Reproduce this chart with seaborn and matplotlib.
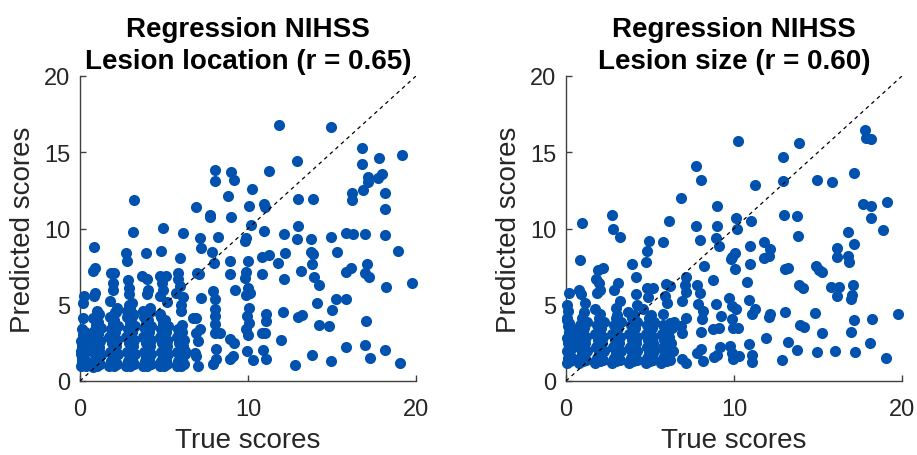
import numpy as np
import pandas as pd
import matplotlib
matplotlib.use('Agg')
import matplotlib.pyplot as plt
import seaborn as sns

# ---- Lesion location panel: dense columns at low true scores ----
loc_dense_true = [
    0.05, 0.25, 0.10, 0.30, 0.15, 0.05, 0.30, 0.20, 0.10, 0.35, 0.05, 0.25, 0.15, 0.30, 0.10, 0.20, 0.05, 0.35, 0.20, 0.10,
    0.75, 1.00, 1.20, 0.85, 1.10, 0.95, 1.25, 0.80, 1.05, 1.15, 0.90, 1.20, 0.75, 1.00, 1.10, 0.85, 1.25, 0.95, 1.05, 0.80, 1.15, 1.00,
    1.75, 2.00, 2.20, 1.85, 2.10, 1.95, 2.25, 1.80, 2.05, 2.15, 1.90, 2.20, 1.75, 2.00, 2.10, 1.85, 2.25, 1.95, 2.05, 1.80, 2.15, 2.00,
    2.75, 3.00, 3.20, 2.85, 3.10, 2.95, 3.25, 2.80, 3.05, 3.15, 2.90, 3.20, 2.75, 3.00, 3.10, 2.85, 3.25, 2.95, 3.05, 2.80, 3.15, 3.00, 2.90, 3.10,
    3.75, 4.00, 4.20, 3.85, 4.10, 3.95, 4.25, 3.80, 4.05, 4.15, 3.90, 4.20, 3.75, 4.00, 4.10, 3.85, 4.25, 3.95, 4.05, 3.80, 4.15, 4.00,
    4.75, 5.00, 5.20, 4.85, 5.10, 4.95, 5.25, 4.80, 5.05, 5.15, 4.90, 5.20, 4.75, 5.00, 5.10, 4.85, 5.25, 4.95, 5.05, 4.80, 5.15, 5.00,
    5.75, 6.00, 6.20, 5.85, 6.10, 5.95, 6.25, 5.80, 6.05, 6.15, 5.90, 6.20, 5.75, 6.00, 6.10, 5.85, 6.25, 5.95,
]
loc_dense_pred = [
    1.0, 1.1, 1.3, 1.4, 1.6, 1.8, 1.9, 2.1, 2.3, 2.4, 2.6, 2.8, 3.0, 3.2, 3.4, 1.2, 2.0, 1.0, 2.7, 1.5,
    0.9, 1.0, 1.1, 1.3, 1.4, 1.6, 1.7, 1.9, 2.1, 2.2, 2.4, 2.6, 2.8, 3.0, 3.1, 3.3, 3.5, 3.7, 3.9, 4.1, 2.0, 1.2,
    1.0, 1.0, 1.1, 1.3, 1.4, 1.6, 1.8, 1.9, 2.1, 2.3, 2.5, 2.7, 2.9, 3.0, 3.2, 3.4, 3.6, 3.8, 4.0, 4.2, 4.5, 2.2,
    1.0, 1.0, 1.1, 1.3, 1.4, 1.6, 1.8, 1.9, 2.1, 2.3, 2.5, 2.7, 2.9, 3.0, 3.2, 3.4, 3.6, 3.8, 4.0, 4.2, 4.4, 4.7, 5.0, 2.2,
    1.0, 1.0, 1.1, 1.3, 1.4, 1.6, 1.8, 1.9, 2.1, 2.3, 2.5, 2.7, 2.9, 3.0, 3.2, 3.4, 3.6, 3.8, 4.0, 4.2, 4.5, 2.0,
    1.0, 1.0, 1.1, 1.3, 1.4, 1.6, 1.8, 1.9, 2.1, 2.3, 2.5, 2.7, 2.9, 3.0, 3.2, 3.4, 3.6, 3.8, 4.0, 4.2, 2.6, 1.2,
    1.0, 1.0, 1.1, 1.3, 1.4, 1.6, 1.8, 1.9, 2.1, 2.3, 2.5, 2.7, 2.9, 3.0, 3.2, 3.4, 2.0, 1.2,
]

# ---- Lesion location panel: scattered points ----
loc_sparse_true = [
    0.26, 0.20, 0.16, 0.81, 0.90, 0.75, 0.90, 0.85, 1.00, 1.15,
    1.85, 2.00, 1.95, 1.95, 1.80, 2.20, 2.10,
    2.75, 2.77, 3.21, 3.17, 2.87, 2.93, 2.93, 3.07, 2.77, 3.17,
    3.92, 3.72, 3.96, 4.06, 3.96, 4.16, 3.76,
    4.83, 4.95, 4.75, 5.09, 4.91, 4.95, 4.75, 5.15, 4.75,
    5.94, 6.16, 5.84, 5.84, 5.94, 5.74, 6.14, 6.04, 6.04, 6.10,
    11.84, 14.97, 16.77, 19.15, 17.82, 12.89, 16.79, 17.96, 17.76, 17.17, 17.17,
    8.02, 8.04, 8.99, 9.15, 11.25, 10.24, 16.18, 18.14, 16.83, 16.20, 8.81,
    12.95, 13.88, 6.89, 7.74, 7.76, 10.06, 10.95, 11.03, 18.16, 9.01,
    10.18, 12.99, 10.95, 7.15, 7.21, 8.22, 9.90, 9.80, 12.12, 12.93,
    13.76, 14.93, 15.86, 16.24, 16.97, 18.16, 18.93, 7.88, 7.96, 8.91,
    8.91, 9.98, 9.90, 9.80, 10.85, 11.25, 11.78, 12.18, 12.14, 13.76,
    13.86, 13.82, 13.15, 13.90, 14.24, 15.27, 15.84, 16.16, 16.97, 17.11,
    17.19, 18.22, 19.78, 10.81, 7.09, 6.95, 9.23, 10.00, 9.88, 10.12,
    7.21, 14.12, 15.21, 15.84, 14.99, 12.08, 12.95, 13.21, 14.20, 14.85,
    17.05, 11.94, 15.84, 16.95, 17.25, 18.14, 19.05, 14.93, 13.80, 12.79,
    9.92, 10.28, 10.91, 11.09, 10.85, 11.01, 11.09, 11.09, 9.92, 10.06,
    9.90, 10.04, 10.00, 8.91, 9.17, 8.91, 9.11, 8.12, 8.12, 7.92,
    8.02, 8.02, 8.02, 8.02, 8.02, 7.92, 8.32, 6.93, 7.13, 7.03,
    6.93, 7.03, 6.73, 6.93, 6.83,
]
loc_sparse_pred = [
    5.6, 5.1, 4.1, 8.8, 7.4, 7.2, 5.8, 5.6, 4.6, 4.4,
    7.1, 7.1, 6.45, 6.0, 5.25, 4.8, 4.5,
    8.42, 7.87, 11.85, 9.79, 6.6, 6.1, 5.7, 5.1, 4.6, 4.3,
    8.42, 6.9, 6.7, 6.0, 5.7, 4.8, 4.6,
    8.55, 10.03, 6.9, 6.9, 6.45, 6.0, 5.6, 5.2, 4.4,
    8.09, 9.7, 7.1, 6.7, 6.2, 5.8, 5.5, 5.0, 4.6, 3.7,
    16.81, 16.63, 15.26, 14.84, 14.64, 14.45, 14.25, 13.60, 13.29, 13.40, 13.05,
    13.84, 13.14, 13.73, 13.16, 13.75, 12.59, 12.35, 12.35, 12.50, 11.87, 12.15,
    11.91, 11.93, 11.43, 10.89, 10.73, 11.45, 11.63, 11.39, 11.30, 10.78,
    10.20, 10.19, 9.81, 9.36, 8.72, 9.44, 9.40, 9.16, 9.62, 9.33,
    9.33, 9.44, 9.70, 9.62, 9.64, 9.60, 8.55, 8.44, 7.74, 7.87,
    6.99, 7.85, 7.13, 6.75, 8.15, 8.26, 7.76, 8.37, 6.67, 8.46,
    8.33, 7.69, 7.23, 6.82, 6.30, 8.46, 7.15, 7.43, 7.10, 7.65,
    6.84, 6.19, 6.43, 7.04, 6.99, 7.10, 5.95, 6.08, 5.62, 5.75,
    5.46, 5.14, 5.36, 5.36, 4.63, 4.55, 4.22, 4.35, 3.69, 3.61,
    3.91, 2.71, 2.25, 2.38, 1.49, 2.05, 1.20, 1.33, 1.68, 1.07,
    1.99, 1.40, 2.01, 1.42, 3.13, 3.13, 3.93, 4.37, 4.26, 3.83,
    3.39, 4.77, 3.00, 2.73, 2.51, 1.42, 1.64, 2.08, 1.42, 1.09,
    3.72, 3.17, 4.26, 4.70, 5.36, 5.90, 3.17, 4.15, 3.39, 2.62,
    1.64, 0.98, 4.15, 3.17, 1.86,
]

# ---- Lesion size panel: dense columns ----
size_dense_true = [
    0.05, 0.25, 0.10, 0.30, 0.15, 0.05, 0.30, 0.20, 0.10, 0.35, 0.05, 0.25, 0.15, 0.30, 0.10, 0.20, 0.05, 0.35,
    0.75, 1.00, 1.20, 0.85, 1.10, 0.95, 1.25, 0.80, 1.05, 1.15, 0.90, 1.20, 0.75, 1.00, 1.10, 0.85, 1.25, 0.95, 1.05, 0.80,
    1.75, 2.00, 2.20, 1.85, 2.10, 1.95, 2.25, 1.80, 2.05, 2.15, 1.90, 2.20, 1.75, 2.00, 2.10, 1.85, 2.25, 1.95, 2.05, 1.80,
    2.75, 3.00, 3.20, 2.85, 3.10, 2.95, 3.25, 2.80, 3.05, 3.15, 2.90, 3.20, 2.75, 3.00, 3.10, 2.85, 3.25, 2.95, 3.05, 2.80,
    3.75, 4.00, 4.20, 3.85, 4.10, 3.95, 4.25, 3.80, 4.05, 4.15, 3.90, 4.20, 3.75, 4.00, 4.10, 3.85, 4.25, 3.95, 4.05, 3.80,
    4.75, 5.00, 5.20, 4.85, 5.10, 4.95, 5.25, 4.80, 5.05, 5.15, 4.90, 5.20, 4.75, 5.00, 5.10, 4.85, 5.25, 4.95, 5.05, 4.80,
    5.65, 5.95, 6.20, 5.80, 6.10, 5.90, 6.35, 5.75, 6.05, 6.25, 5.85, 6.15, 5.70, 6.00, 6.30, 5.80, 6.40, 5.95,
]
size_dense_pred = [
    1.2, 1.3, 1.5, 1.6, 1.8, 2.0, 2.1, 2.3, 2.5, 2.6, 2.8, 3.0, 3.2, 3.4, 3.6, 3.8, 4.0, 1.4,
    1.2, 1.3, 1.4, 1.5, 1.7, 1.9, 2.0, 2.2, 2.4, 2.5, 2.7, 2.9, 3.1, 3.3, 3.5, 3.7, 3.9, 4.1, 1.8, 1.3,
    1.2, 1.3, 1.4, 1.5, 1.7, 1.9, 2.0, 2.2, 2.4, 2.5, 2.7, 2.9, 3.1, 3.3, 3.5, 3.7, 3.9, 4.1, 4.4, 1.3,
    1.2, 1.3, 1.4, 1.5, 1.7, 1.9, 2.0, 2.2, 2.4, 2.5, 2.7, 2.9, 3.1, 3.3, 3.5, 3.7, 3.9, 4.1, 4.3, 1.3,
    1.2, 1.3, 1.4, 1.5, 1.7, 1.9, 2.0, 2.2, 2.4, 2.5, 2.7, 2.9, 3.1, 3.3, 3.5, 3.7, 3.9, 4.1, 4.3, 1.3,
    1.2, 1.3, 1.4, 1.5, 1.7, 1.9, 2.0, 2.2, 2.4, 2.5, 2.7, 2.9, 3.1, 3.3, 3.5, 3.7, 3.9, 4.1, 4.3, 1.3,
    1.2, 1.3, 1.4, 1.5, 1.7, 1.9, 2.0, 2.2, 2.4, 2.5, 2.7, 2.9, 3.1, 3.3, 3.5, 3.7, 3.9, 1.3,
]

# ---- Lesion size panel: scattered points ----
size_sparse_true = [
    0.20, 0.06, 0.12, 0.06, 0.81, 0.97, 0.75, 0.89, 1.15, 1.05,
    1.90, 2.18, 1.80, 1.94, 1.84, 2.04, 1.74,
    2.73, 2.77, 3.21, 2.83, 3.07, 3.23, 3.00,
    3.94, 4.14, 4.14, 4.20, 3.72,
    4.95, 4.83, 4.75, 4.81, 5.20, 4.91, 4.60,
    5.78, 6.16, 5.94, 6.20, 5.90, 6.04, 5.80, 6.20,
    17.78, 17.84, 18.16, 10.22, 13.88, 12.91, 7.74, 8.04, 17.15, 11.23,
    12.91, 14.93, 15.84, 6.87, 17.70, 18.16, 19.11, 8.99, 18.14, 10.14,
    10.99, 12.95, 13.74, 16.77, 18.89, 7.76, 8.00, 8.99, 8.91, 9.13,
    10.16, 13.82, 11.78, 12.16, 12.10, 11.78, 10.93, 10.08, 9.90, 9.82,
    10.93, 10.04, 8.20, 13.01, 13.19, 14.91, 15.07, 15.25, 16.16, 16.16,
    16.81, 16.83, 17.15, 8.77, 10.77, 13.86, 14.12, 15.80, 16.24, 16.16,
    17.09, 17.03, 16.95, 7.17, 7.07, 7.15, 7.82, 7.96, 6.89, 7.84,
    8.18, 8.08, 8.91, 9.23, 8.04, 8.77, 9.11, 9.72, 9.88, 10.12,
    9.88, 9.92, 10.22, 10.89, 11.07, 11.27, 12.08, 12.16, 13.03, 13.90,
    14.18, 14.85, 15.21, 16.95, 17.17, 18.20, 19.78, 11.92, 13.23, 10.89,
    13.76, 14.93, 16.02, 17.21, 18.12, 19.03, 12.83, 11.07, 11.07, 9.17,
    8.97, 8.83, 9.76, 9.86, 10.30, 9.92, 8.04, 7.82, 8.18, 6.89,
    7.15, 7.15, 6.83, 6.89,
]
size_sparse_pred = [
    5.8, 5.0, 4.6, 4.15, 7.91, 10.34, 6.0, 5.7, 5.1, 4.5,
    7.3, 7.41, 6.7, 6.45, 5.8, 6.0, 4.7,
    10.86, 9.95, 9.46, 6.0, 6.45, 5.25, 4.8,
    7.65, 6.84, 5.7, 5.0, 4.5,
    9.18, 8.52, 7.78, 6.1, 6.1, 5.5, 4.7,
    9.09, 10.47, 6.34, 6.23, 5.57, 5.14, 4.37, 3.83,
    16.46, 15.96, 15.85, 15.72, 15.61, 14.71, 14.08, 13.20, 13.66, 12.87,
    13.11, 13.16, 13.07, 12.00, 11.63, 11.50, 11.72, 11.48, 10.69, 10.71,
    10.51, 10.91, 10.84, 9.79, 9.88, 10.14, 9.22, 10.19, 9.36, 8.85,
    9.95, 9.49, 9.11, 8.68, 8.17, 8.04, 8.85, 8.37, 8.15, 7.98,
    7.69, 7.37, 7.54, 7.32, 7.43, 7.54, 7.28, 7.17, 8.70, 8.13,
    8.20, 7.78, 8.98, 6.60, 6.49, 6.27, 6.08, 6.19, 6.19, 5.57,
    6.30, 5.66, 5.36, 6.82, 6.30, 5.84, 6.30, 5.79, 5.25, 5.03,
    4.59, 4.04, 5.05, 4.26, 3.23, 3.43, 3.45, 5.46, 4.92, 4.70,
    4.04, 3.45, 3.50, 5.29, 4.37, 4.74, 4.22, 4.37, 4.55, 3.69,
    3.54, 4.44, 3.13, 3.21, 3.98, 4.09, 4.37, 2.80, 2.58, 2.43,
    2.03, 1.92, 1.97, 1.92, 2.49, 1.51, 1.40, 1.68, 1.27, 2.23,
    1.73, 1.60, 2.30, 1.86, 1.64, 1.46, 2.08, 1.86, 1.31, 1.42,
    1.20, 4.15, 3.61, 3.17,
]

titles = ["Regression NIHSS\nLesion location (r = 0.65)",
          "Regression NIHSS\nLesion size (r = 0.60)"]

DOT = '#0052AE'
AXC = '#404040'
TXT = '#262626'

sns.set_style('white')
plt.rcParams['font.family'] = ['Liberation Sans', 'DejaVu Sans']


def draw_panel(ax, true_vals, pred_vals, title):
    df = pd.DataFrame({'true': true_vals, 'pred': pred_vals})
    sns.scatterplot(data=df, x='true', y='pred', ax=ax, s=64, color=DOT,
                    linewidth=0, clip_on=False, zorder=3)
    ax.plot([0, 20], [0, 20], color='black', lw=0.9, dashes=(3, 3), zorder=4)
    ax.set_xlim(0, 20)
    ax.set_ylim(0, 20)
    ax.set_xticks([0, 10, 20])
    ax.set_yticks([0, 5, 10, 15, 20])
    for side in ['top', 'right']:
        ax.spines[side].set_visible(False)
    for side in ['left', 'bottom']:
        ax.spines[side].set_color(AXC)
        ax.spines[side].set_linewidth(1.0)
    ax.tick_params(direction='in', length=4, width=1, color=AXC,
                   labelsize=17, labelcolor=TXT, bottom=True, left=True)
    ax.tick_params(axis='x', pad=12)
    ax.tick_params(axis='y', pad=7)
    ax.set_xlabel('True scores', fontsize=20, color=TXT, labelpad=5)
    ax.set_ylabel('Predicted scores', fontsize=20, color=TXT, labelpad=6)
    ax.set_title(title, fontsize=20, fontweight='bold', color='black',
                 pad=6, linespacing=1.3)


fig = plt.figure(figsize=(9.17, 4.56), dpi=100)
ax1 = fig.add_axes([80 / 917, 74 / 456, 336 / 917, 305 / 456])
ax2 = fig.add_axes([566 / 917, 74 / 456, 336 / 917, 305 / 456])

draw_panel(ax1, loc_dense_true + loc_sparse_true, loc_dense_pred + loc_sparse_pred, titles[0])
draw_panel(ax2, size_dense_true + size_sparse_true, size_dense_pred + size_sparse_pred, titles[1])

fig.savefig('out.png', dpi=100)
